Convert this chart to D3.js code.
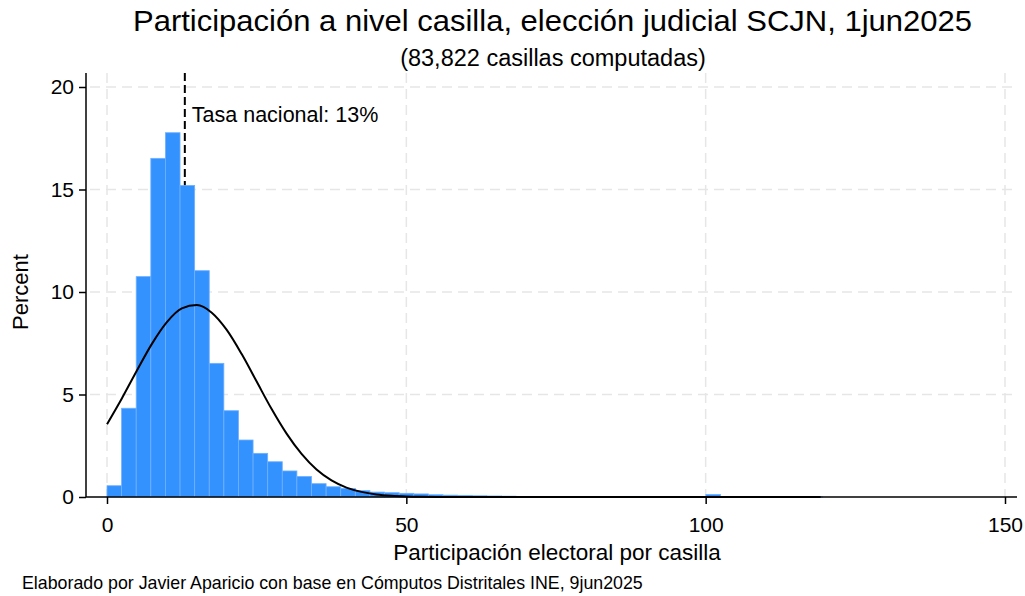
<!DOCTYPE html>
<html>
<head>
<meta charset="utf-8">
<script src="https://cdn.jsdelivr.net/npm/d3@7"></script>
<style>
  body { margin: 0; background: #fff; }
  svg text { font-family: "Liberation Sans", Arial, sans-serif; fill: #000; }
</style>
</head>
<body>
<div id="chart"></div>
<script>
// histogram of turnout per casilla, bins of ~2.44 points starting at 0
const binWidth = 2.44;
const binPercent = [
  0.55, 4.33, 10.75, 16.52, 17.77, 15.2, 11.04, 6.52, 4.21, 2.78,
  2.13, 1.72, 1.27, 1.0, 0.65, 0.5, 0.42, 0.31, 0.24, 0.21,
  0.18, 0.15, 0.11, 0.09, 0.08, 0.06, 0.05, 0.04, 0.02, 0.03,
  0.02, 0.01, 0.01, 0.01, 0.01, 0.03, 0.03, 0.01, 0.02, 0.01,
  0.01, 0.12, 0.01, 0.01, 0.005, 0.005, 0.005, 0.005, 0.005
];

// normal overlay
const curveX = [0, 2.5, 5, 7.5, 10, 12.5, 15, 17.5, 20, 22.5, 25, 27.5, 30, 32.5, 35, 37.5, 40, 42.5, 45, 47.5, 50, 52.5, 55, 60, 70, 90, 119.2];
const curveY = [3.55, 4.82, 6.17, 7.47, 8.53, 9.2, 9.36, 8.99, 8.15, 6.97, 5.63, 4.29, 3.09, 2.1, 1.34, 0.81, 0.46, 0.25, 0.127, 0.061, 0.028, 0.012, 0.005, 0.001, 0, 0, 0];

const nationalRate = 13;
const xTicks = [0, 50, 100, 150];
const yTicks = [0, 5, 10, 15, 20];

const title = "Participación a nivel casilla, elección judicial SCJN, 1jun2025";
const subtitle = "(83,822 casillas computadas)";
const xTitle = "Participación electoral por casilla";
const yTitle = "Percent";
const caption = "Elaborado por Javier Aparicio con base en Cómputos Distritales INE, 9jun2025";

const width = 1025, height = 596;
const plot = { left: 86, right: 1017, top: 73, bottom: 497 };

const svg = d3.select("#chart").append("svg")
  .attr("width", width)
  .attr("height", height);

const x = d3.scaleLinear().domain([0, 150]).range([107, 1005]);
const y = d3.scaleLinear().domain([0, 20]).range([497, 87]);

// grid
const grid = svg.append("g").attr("stroke", "#e6e6e6").attr("stroke-width", 1.5).attr("stroke-dasharray", "10,6");
grid.selectAll(".gh").data(yTicks.filter(d => d > 0)).join("line")
  .attr("x1", plot.left + 4).attr("x2", plot.right)
  .attr("y1", d => y(d)).attr("y2", d => y(d));
grid.selectAll(".gv").data(xTicks).join("line")
  .attr("x1", d => x(d)).attr("x2", d => x(d))
  .attr("y1", plot.top).attr("y2", plot.bottom);

// national rate line (behind bars)
svg.append("line")
  .attr("x1", x(nationalRate)).attr("x2", x(nationalRate))
  .attr("y1", plot.top).attr("y2", plot.bottom)
  .attr("stroke", "#000").attr("stroke-width", 2)
  .attr("stroke-dasharray", "8,4");

// bars
svg.append("g").selectAll("rect").data(binPercent).join("rect")
  .attr("x", (d, i) => x(i * binWidth))
  .attr("width", x(binWidth) - x(0))
  .attr("y", d => y(d))
  .attr("height", d => y(0) - y(d))
  .attr("fill", "#3492ff")
  .attr("stroke", "#6fb0ff")
  .attr("stroke-width", 0.8);

// normal curve
svg.append("path")
  .datum(curveX.map((v, i) => [v, curveY[i]]))
  .attr("fill", "none")
  .attr("stroke", "#000")
  .attr("stroke-width", 2)
  .attr("d", d3.line().x(d => x(d[0])).y(d => y(d[1])).curve(d3.curveMonotoneX));

// axes
const xAxis = svg.append("g")
  .attr("transform", `translate(0,${plot.bottom})`)
  .call(d3.axisBottom(x).tickValues(xTicks).tickSize(7).tickPadding(0));
xAxis.select(".domain").remove();
xAxis.selectAll("text").attr("font-size", 21).attr("dy", null).attr("y", 35);
xAxis.selectAll("line").attr("stroke-width", 1.5);

const yAxis = svg.append("g")
  .attr("transform", `translate(${plot.left},0)`)
  .call(d3.axisLeft(y).tickValues(yTicks).tickSize(7).tickPadding(5));
yAxis.select(".domain").remove();
yAxis.selectAll("text").attr("font-size", 21);
yAxis.selectAll("line").attr("stroke-width", 1.5);

svg.append("line")
  .attr("x1", plot.left).attr("x2", plot.right)
  .attr("y1", plot.bottom).attr("y2", plot.bottom)
  .attr("stroke", "#000").attr("stroke-width", 1.5);
svg.append("line")
  .attr("x1", plot.left).attr("x2", plot.left)
  .attr("y1", plot.top).attr("y2", plot.bottom)
  .attr("stroke", "#000").attr("stroke-width", 1.5);

// annotation
svg.append("text")
  .attr("x", x(nationalRate) + 7).attr("y", 122)
  .attr("font-size", 21.5)
  .text("Tasa nacional: 13%");

// titles
svg.append("text")
  .attr("x", 552.5).attr("y", 31)
  .attr("text-anchor", "middle").attr("font-size", 29)
  .attr("textLength", 839).attr("lengthAdjust", "spacingAndGlyphs")
  .text(title);
svg.append("text")
  .attr("x", 553).attr("y", 66)
  .attr("text-anchor", "middle").attr("font-size", 23.5)
  .text(subtitle);
svg.append("text")
  .attr("x", 557).attr("y", 560)
  .attr("text-anchor", "middle").attr("font-size", 22.5)
  .text(xTitle);
svg.append("text")
  .attr("transform", "translate(28,292) rotate(-90)")
  .attr("text-anchor", "middle").attr("font-size", 22)
  .text(yTitle);
svg.append("text")
  .attr("x", 22).attr("y", 589)
  .attr("font-size", 17.8)
  .text(caption);
</script>
</body>
</html>
